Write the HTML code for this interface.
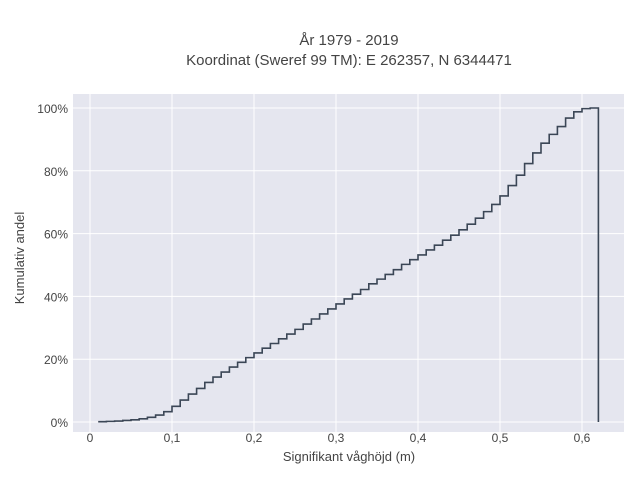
<!DOCTYPE html>
<html><head><meta charset="utf-8"><style>
body{margin:0;background:#fff;}
text{font-family:"Liberation Sans",sans-serif;fill:#444;}
</style></head><body>
<svg width="640" height="480" xmlns="http://www.w3.org/2000/svg">
<text x="349" y="45" text-anchor="middle" font-size="15">År 1979 - 2019</text>
<text x="349" y="65" text-anchor="middle" font-size="15">Koordinat (Sweref 99 TM): E 262357, N 6344471</text>
<rect x="73" y="94" width="551" height="338" fill="#e5e6ef"/>
<g id="grid"></g>
<g id="ticks"></g>
<path id="line" fill="none" stroke="#3b4656" stroke-width="1.6"/>
<text x="349" y="461" text-anchor="middle" font-size="13">Signifikant våghöjd (m)</text>
<text transform="translate(24,258) rotate(-90)" text-anchor="middle" font-size="13">Kumulativ andel</text>
</svg>
<script>
const xTicks=[0,0.1,0.2,0.3,0.4,0.5,0.6];
const xTickLabels=["0","0,1","0,2","0,3","0,4","0,5","0,6"];
const yTicks=[0,20,40,60,80,100];
const yTickLabels=["0%","20%","40%","60%","80%","100%"];
const binStart=0.01, binWidth=0.01;
const cumValues=[0.1,0.2,0.3,0.5,0.7,1.0,1.5,2.2,3.3,5,7,8.9,10.7,12.6,14.3,15.9,17.5,19,20.5,22,23.5,25,26.5,28,29.5,31.2,32.8,34.4,36,37.6,39.2,40.7,42.2,44,45.5,47,48.5,50.2,51.7,53.2,54.8,56.3,57.9,59.5,61.2,63,64.9,67,69.3,72,75.3,78.6,82.3,85.7,88.8,91.6,94.1,96.8,98.8,99.8,100,100];
const xs=v=>90+v*820, ys=v=>422-v*3.14;
const NS="http://www.w3.org/2000/svg";
const g=document.getElementById('grid'), t=document.getElementById('ticks');
xTicks.forEach((v,i)=>{
 const l=document.createElementNS(NS,'line');
 l.setAttribute('x1',xs(v));l.setAttribute('x2',xs(v));l.setAttribute('y1',94);l.setAttribute('y2',432);
 l.setAttribute('stroke','#fff');
 
 
 g.appendChild(l);
 const tx=document.createElementNS(NS,'text');
 tx.setAttribute('x',xs(v));tx.setAttribute('y',442);tx.setAttribute('text-anchor','middle');tx.setAttribute('font-size','12');
 tx.textContent=xTickLabels[i];
 
 
 t.appendChild(tx);
});
yTicks.forEach((v,i)=>{
 const l=document.createElementNS(NS,'line');
 l.setAttribute('x1',73);l.setAttribute('x2',624);l.setAttribute('y1',ys(v));l.setAttribute('y2',ys(v));
 l.setAttribute('stroke','#fff');
 
 
 g.appendChild(l);
 const tx=document.createElementNS(NS,'text');
 tx.setAttribute('x',68);tx.setAttribute('y',ys(v)+5);tx.setAttribute('text-anchor','end');tx.setAttribute('font-size','12');
 tx.textContent=yTickLabels[i];
 
 
 t.appendChild(tx);
});
const lastX=binStart+(cumValues.length-1)*binWidth;
let d='M'+xs(binStart)+','+ys(cumValues[0]);
cumValues.forEach((v,i)=>{const x0=binStart+i*binWidth;if(i>0)d+=' L'+xs(x0)+','+ys(cumValues[i-1]);d+=' L'+xs(x0)+','+ys(v);});
d+=' L'+xs(lastX)+','+ys(0);
document.getElementById('line').setAttribute('d',d);
</script>
</body></html>
